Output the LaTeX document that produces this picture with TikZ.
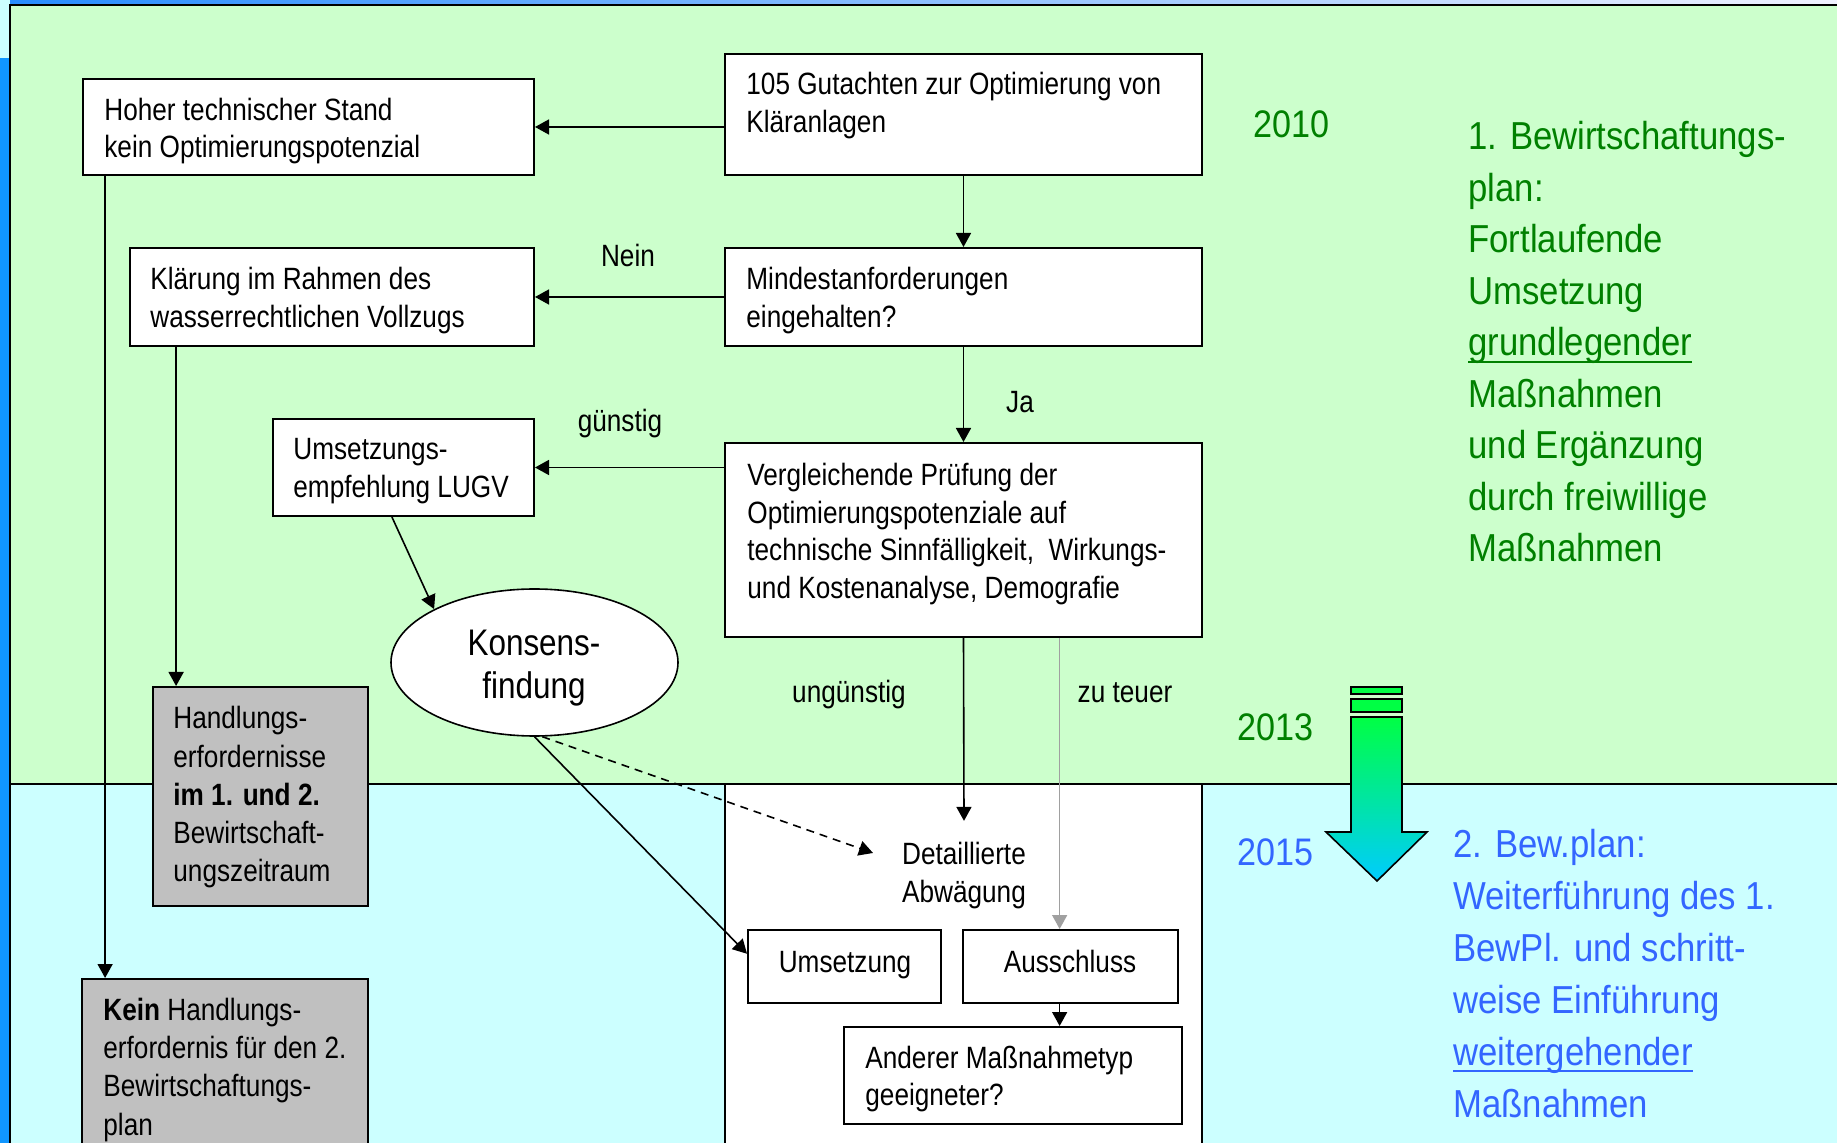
\documentclass[tikz,border=0pt]{standalone}
\usepackage{fontspec}
\setmainfont{Liberation Sans}[FakeStretch=0.85]
\newfontfamily\sidefont{Liberation Sans}[FakeStretch=0.89]
\usetikzlibrary{arrows.meta,fit,calc,shapes.geometric}
\definecolor{bggreen}{RGB}{204,255,204}
\definecolor{bgcyan}{RGB}{204,255,255}
\definecolor{edgeblue}{RGB}{16,150,255}
\definecolor{topblue}{RGB}{40,140,255}
\definecolor{topwhite}{RGB}{240,242,255}
\definecolor{txtgreen}{RGB}{0,128,0}
\definecolor{txtblue}{RGB}{51,102,255}
\definecolor{boxgray}{RGB}{192,192,192}
\definecolor{arrgreen}{RGB}{0,255,68}
\definecolor{arrcyan}{RGB}{0,204,255}
\definecolor{linegray}{RGB}{160,160,160}
\newsavebox\ulbox
\newcommand\myul[1]{\sbox\ulbox{#1}\rlap{\rule[-3.5pt]{\wd\ulbox}{1pt}}\usebox\ulbox}
\begin{document}
\begin{tikzpicture}[x=0.5pt,y=-0.5pt,
  box/.style={draw,line width=1pt,fill=white,inner sep=0pt},
  graybox/.style={box,fill=boxgray},
  txt/.style={inner sep=0pt,align=left,anchor=base west,font=\fontsize{15.4}{18.7}\selectfont},
  gtxt/.style={txt,font=\fontsize{15.4}{19.15}\selectfont},
  ctxt/.style={inner sep=0pt,align=center,anchor=base,font=\fontsize{15.4}{18.7}\selectfont},
  lbl/.style={inner sep=0pt,anchor=base,font=\fontsize{15.4}{18.7}\selectfont},
  year/.style={inner sep=0pt,anchor=base west,font=\sidefont\fontsize{19.2}{24}\selectfont},
  side/.style={inner sep=0pt,align=left,anchor=base west},
  arr/.style={line width=0.8pt,-{Triangle[length=7pt,width=7.5pt]}},
  grayarr/.style={arr,draw=linegray,fill=linegray},
  dasharr/.style={arr,dash pattern=on 4pt off 3pt}
]
\useasboundingbox (0,0) rectangle (1837,1143);
\clip (0,0) rectangle (1837,1143);
% background
\fill[bgcyan] (0,0) rectangle (1837,1143);
\fill[edgeblue] (0,58) rectangle (10,1143);
\shade[left color=topblue,right color=topwhite] (10,0) rectangle (1837,5);
\fill[bggreen] (10,5) rectangle (1837,784);
\fill[bgcyan] (10,784) rectangle (1837,1143);
\fill[white] (725,784) rectangle (1202,1150);
\draw[line width=1pt] (10,1150) -- (10,5) -- (1845,5);
\draw[line width=1pt] (10,784) -- (1845,784);
\draw[line width=1pt] (725,784) -- (725,1150) (1202,784) -- (1202,1150);

% boxes (text nodes are placed at the baseline of their last line)
\node[box,fit={(725,54)(1202,175)}] (gut) {};
\node[txt] (gutT) at (746,132.4) {105 Gutachten zur Optimierung von\\Kläranlagen};
\node[box,fit={(83,79)(534,175)}] (hoh) {};
\node[txt] (hohT) at (104,158) {Hoher technischer Stand\\kein Optimierungspotenzial};
\node[box,fit={(130,248)(534,346)}] (kla) {};
\node[txt] (klaT) at (150,327.4) {Klärung im Rahmen des\\wasserrechtlichen Vollzugs};
\node[box,fit={(725,248)(1202,346)}] (min) {};
\node[txt] (minT) at (746,327.4) {Mindestanforderungen\\eingehalten?};
\node[box,fit={(273,419)(534,516)}] (ump) {};
\node[txt] (umpT) at (293,497.4) {Umsetzungs-\\empfehlung LUGV};
\node[box,fit={(725,443)(1202,637)}] (ver) {};
\node[txt] (verT) at (747,598.2) {Vergleichende Prüfung der\\Optimierungspotenziale auf\\technische Sinnfälligkeit,\ \ Wirkungs-\\und Kostenanalyse, Demografie};
\node[ellipse,draw,line width=0.8pt,fill=white,minimum width=143.5pt,minimum height=73.5pt,inner sep=0pt] (kon) at (534.5,662.5) {};
\node[ctxt,font=\fontsize{18.5}{21.5}\selectfont] (konT) at (534,699) {Konsens-\\findung};
\node[graybox,fit={(153,687)(368,906)}] (han) {};
\node[gtxt] (hanT) at (173,882) {Handlungs-\\erfordernisse\\\textbf{im 1. und 2.}\\Bewirtschaft-\\ungszeitraum};
\node[graybox,fit={(82,979)(368,1160)}] (kein) {};
\node[gtxt] (keinT) at (103,1135) {\textbf{Kein} Handlungs-\\erfordernis für den 2.\\Bewirtschaftungs-\\plan};
\node[ctxt,inner ysep=10.5pt] (det) at (964,902) {Detaillierte\\Abwägung};
\coordinate (dashend) at (873,853);
\node[box,fit={(748,930)(941,1003)}] (ums) {};
\node[lbl] (umsT) at (845,972) {Umsetzung};
\node[box,fit={(963,930)(1178,1003)}] (aus) {};
\node[lbl] (ausT) at (1070,972) {Ausschluss};
\node[box,fit={(844,1027)(1182,1124)}] (and) {};
\node[txt] (andT) at (865,1105.4) {Anderer Maßnahmetyp\\geeigneter?};

% labels
\node[lbl] (nein) at (628,267) {Nein};
\node[lbl] (ja) at (1020,413) {Ja};
\node[lbl] (guen) at (620,432) {günstig};
\node[lbl] (unguen) at (849,703) {ungünstig};
\node[lbl] (teuer) at (1125,703) {zu teuer};

% years
\node[year,txtgreen] (y10) at (1253,138) {2010};
\node[year,txtgreen] (y13) at (1237,741) {2013};
\node[year,txtblue] (y15) at (1237,866) {2015};

% side texts
\node[side,txtgreen,font=\sidefont\fontsize{19.5}{25.75}\selectfont] (plan1) at (1468,562)
  {1. Bewirtschaftungs-\\plan:\\Fortlaufende\\Umsetzung\\\myul{grundlegender}\\Maßnahmen\\und Ergänzung\\durch freiwillige\\Maßnahmen};
\node[side,txtblue,font=\sidefont\fontsize{19.5}{26}\selectfont] (plan2) at (1453,1117)
  {2. Bew.plan:\\Weiterführung des 1.\\BewPl. und schritt-\\weise Einführung\\\myul{weitergehender}\\Maßnahmen};

% big arrow
\shadedraw[top color=arrgreen,bottom color=arrcyan,line width=0.8pt]
  (1351,717) -- (1402,717) -- (1402,832) -- (1427,832) -- (1377,881) -- (1326,832) -- (1351,832) -- cycle;
\filldraw[fill=arrgreen,line width=0.8pt] (1351,687) rectangle (1402,694);
\filldraw[fill=arrgreen,line width=0.8pt] (1351,699) rectangle (1402,712);

% connectors
\draw[arr] (gut.west |- hoh.east) -- (hoh.east);
\draw[arr] (gut.south) -- (min.north);
\draw[arr] (min.west) -- (kla.east);
\draw[arr] (min.south) -- (ver.north);
\draw[arr] (ver.west |- ump.east) -- (ump.east);
\coordinate (umpout) at ($(ump.south west)!0.456!(ump.south east)$);
\draw[arr] (umpout) -- (kon.152);
\coordinate (hohdown) at ($(hoh.south west)!0.051!(hoh.south east)$);
\draw[arr] (hohdown) -- (hohdown |- kein.north);
\coordinate (kladown) at ($(kla.south west)!0.116!(kla.south east)$);
\draw[arr] (kladown) -- (kladown |- han.north);
\draw[arr] (ver.south) -- (det.north);
\coordinate (ausin) at ($(aus.north west)!0.45!(aus.north east)$);
\draw[grayarr] (ver.south -| ausin) -- (ausin);
\draw[arr] (ausin |- aus.south) -- (ausin |- and.north);
\coordinate (umsin) at ($(ums.north west)!0.33!(ums.south west)$);
\draw[arr] (kon.south) -- (umsin);
\draw[dasharr] (kon.-84) -- (dashend);
\end{tikzpicture}
\end{document}
